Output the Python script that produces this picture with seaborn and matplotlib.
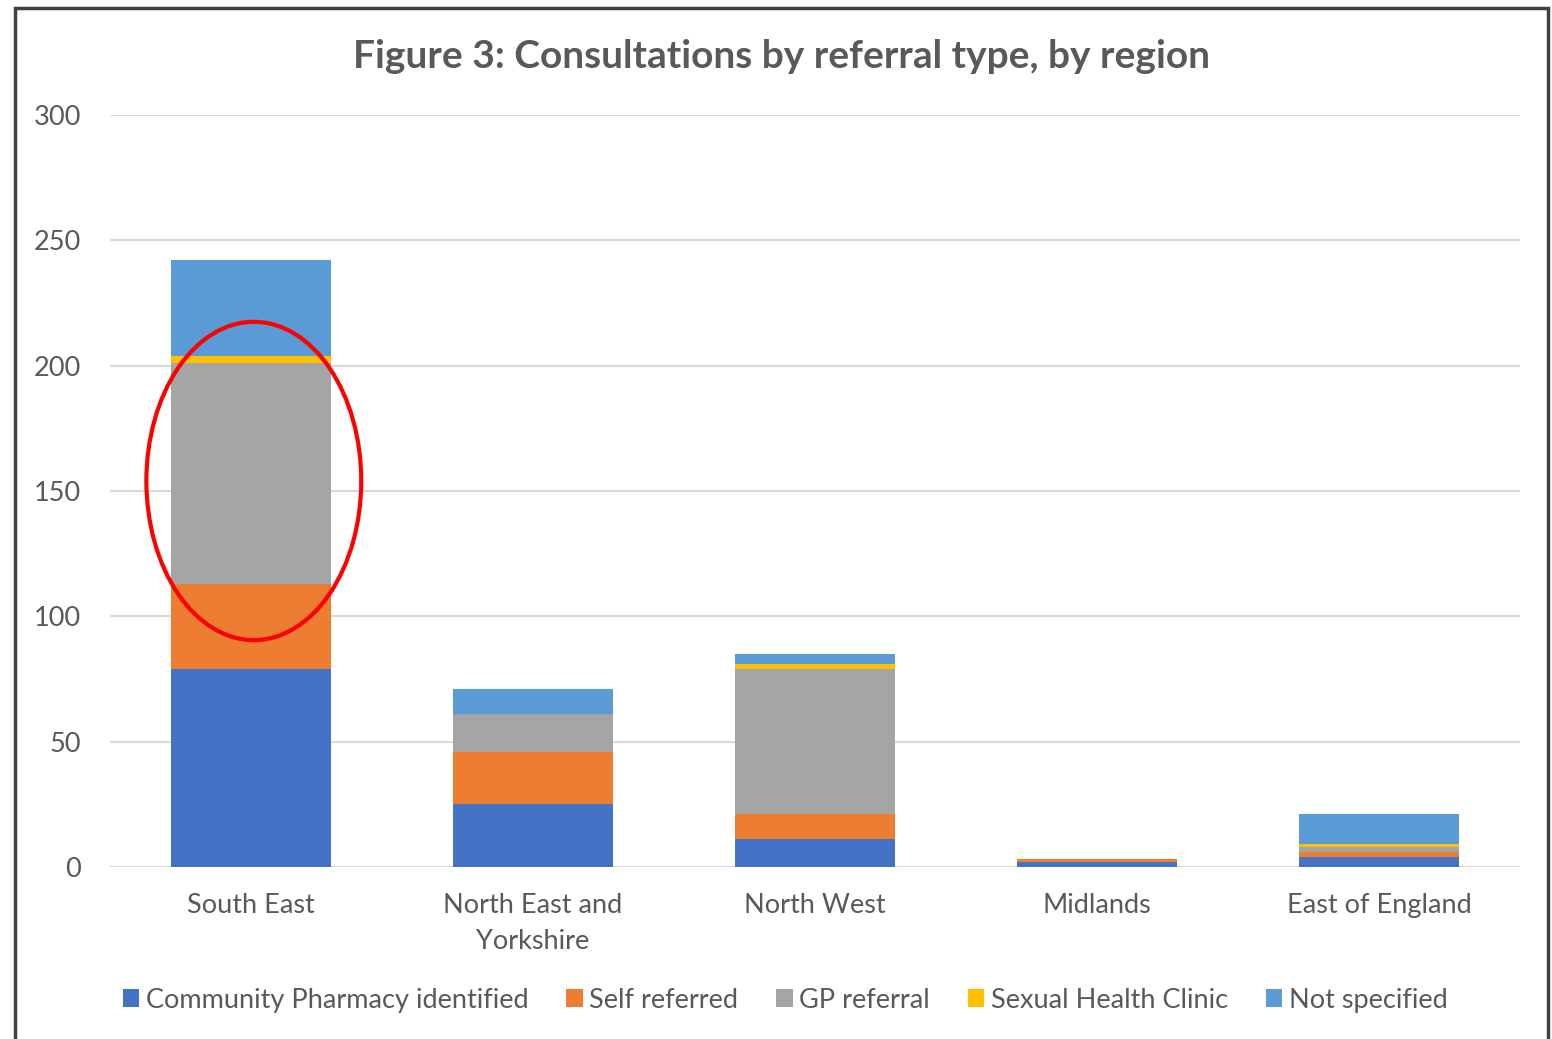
import numpy as np
import pandas as pd
import matplotlib
matplotlib.use("Agg")
import matplotlib.pyplot as plt
import seaborn as sns
from matplotlib.patches import Ellipse, Rectangle, Patch

regions = ["South East", "North East and\nYorkshire", "North West", "Midlands", "East of England"]
series_names = ["Community Pharmacy identified", "Self referred", "GP referral",
                "Sexual Health Clinic", "Not specified"]
community_pharmacy = [79, 25, 11, 2, 4]
self_referred = [34, 21, 10, 1, 2]
gp_referral = [88, 15, 58, 0, 2]
sexual_health = [3, 0, 2, 0, 1]
not_specified = [38, 10, 4, 0, 12]
colors = ["#4472C4", "#ED7D31", "#A5A5A5", "#FFC000", "#5B9BD5"]
yticks = [0, 50, 100, 150, 200, 250, 300]

sns.set_theme(style="white")
plt.rcParams['font.family'] = ['Lato', 'DejaVu Sans']
text_col = "#595959"

fig = plt.figure(figsize=(15.52, 10.39), dpi=100)
ax = fig.add_axes([110/1552, 1-867/1039, 1410/1552, 752/1039])

values = [community_pharmacy, self_referred, gp_referral, sexual_health, not_specified]
cum = np.cumsum(np.array(values, dtype=float), axis=0)

# draw from top layer down so lower layers overlay
for i in range(len(series_names) - 1, -1, -1):
    df = pd.DataFrame({"region": regions, "value": cum[i]})
    sns.barplot(data=df, x="region", y="value", order=regions, color=colors[i],
                width=0.57, saturation=1, ax=ax, zorder=3, linewidth=0)

ax.set_xlim(-0.5, len(regions) - 0.5)
ax.set_ylim(0, 300)
ax.set_yticks(yticks)
ax.set_yticklabels([str(v) for v in yticks])
ax.yaxis.grid(True, color="#D9D9D9", linewidth=1.5, zorder=0)
ax.xaxis.grid(False)
for s in ax.spines.values():
    s.set_visible(False)
ax.axhline(0, color="#D9D9D9", linewidth=1.5, zorder=2)
ax.set_xlabel("")
ax.set_ylabel("")
ax.tick_params(axis="y", length=0, pad=21, labelsize=19.5, labelcolor=text_col)
ax.tick_params(axis="x", length=0, pad=19, labelsize=19.5, labelcolor=text_col)
for lab in ax.get_xticklabels():
    lab.set_linespacing(1.55)

ax.set_title("Figure 3: Consultations by referral type, by region", fontsize=28,
             fontweight="bold", color=text_col, x=0.476, pad=34)

# red annotation ellipse
ell = Ellipse((0.01, 154), width=0.762, height=127, fill=False, edgecolor="#FF0000",
              linewidth=3, zorder=5, clip_on=False)
ax.add_patch(ell)

handles = [Patch(facecolor=c, edgecolor="none") for c in colors]
leg = ax.legend(handles, series_names, loc="center", bbox_to_anchor=(0.479, -0.177),
                ncol=5, frameon=False, fontsize=19.5, handlelength=0.6, handleheight=0.6,
                handletextpad=0.25, columnspacing=1.4, labelcolor=text_col)

# outer frame
fig.add_artist(Rectangle((15/1552, -0.05), (1548-15)/1552, 1.05 - 8/1039,
                         transform=fig.transFigure, fill=False, edgecolor="#404040",
                         linewidth=2.5))

fig.savefig("out.png", dpi=100)
